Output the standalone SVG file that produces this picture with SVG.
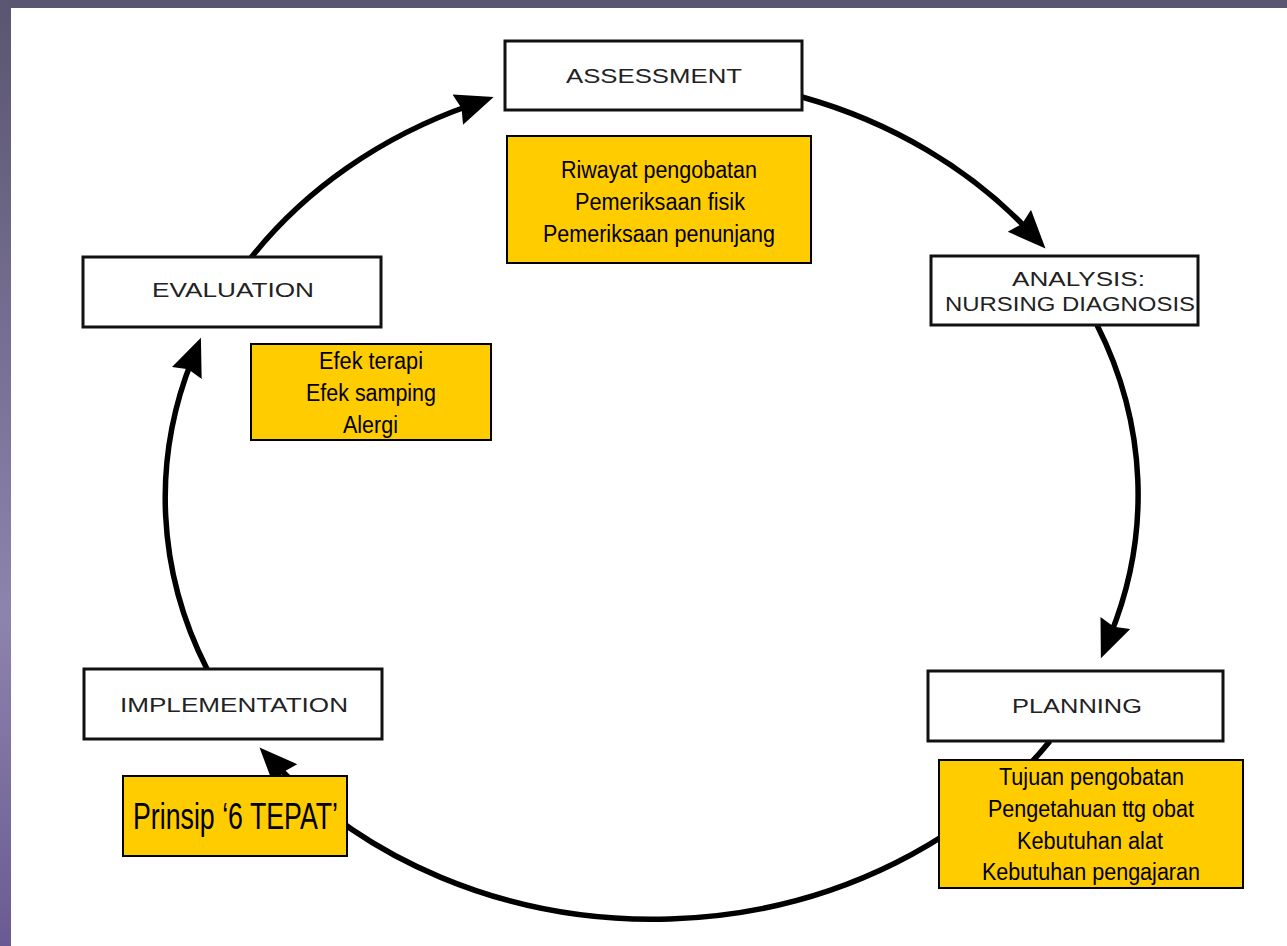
<svg xmlns="http://www.w3.org/2000/svg" width="1287" height="946" viewBox="0 0 1287 946">
<style>
.box{fill:#fff;stroke:#111;stroke-width:3}
.note{fill:#FFCC00;stroke:#000;stroke-width:2}
.lbl{font-family:"Liberation Sans",Arial,sans-serif;font-size:20px;fill:#222}
.nt{font-family:"Liberation Sans Narrow","Liberation Sans",Arial,sans-serif;font-size:23.5px;fill:#000}
.big{font-family:"Liberation Sans Narrow","Liberation Sans",Arial,sans-serif;font-size:36px;fill:#000}
.arc{fill:none;stroke:#000;stroke-width:5.5}
</style>
<defs>
<linearGradient id="side" x1="0" y1="0" x2="0" y2="1">
<stop offset="0" stop-color="#5a5570"/>
<stop offset="0.65" stop-color="#8d84ad"/>
<stop offset="1" stop-color="#6a5a92"/>
</linearGradient>
<marker id="ah" markerUnits="userSpaceOnUse" markerWidth="44" markerHeight="36" refX="14" refY="16" orient="auto" viewBox="0 0 44 36">
<path d="M0,0 L38,16 L0,32 L4,16 z" fill="#000"/>
</marker>
</defs>
<rect x="0" y="0" width="1287" height="946" fill="#fff"/>
<rect x="0" y="0" width="1287" height="8" fill="#5a5570"/>
<rect x="0" y="0" width="11" height="946" fill="url(#side)"/>

<g id="connectors">
<path class="arc" d="M250,259 A487,422 0 0 1 471,105" marker-end="url(#ah)"/>
<path class="arc" d="M802,97 A487,422 0 0 1 1029,231" marker-end="url(#ah)"/>
<path class="arc" d="M1097,325 A487,422 0 0 1 1110,636" marker-end="url(#ah)"/>
<path class="arc" d="M1050,741 A487,422 0 0 1 276,765" marker-end="url(#ah)"/>
<path class="arc" d="M207,669 A487,422 0 0 1 192,360" marker-end="url(#ah)"/>
</g>

<g id="assessment">
<rect class="box" x="505" y="41" width="297" height="69"/>
<text class="lbl" x="566" y="83" textLength="176" lengthAdjust="spacingAndGlyphs">ASSESSMENT</text>
</g>
<g id="assessment-note">
<rect class="note" x="507" y="136" width="304" height="127"/>
<text class="nt" x="561" y="178" textLength="196" lengthAdjust="spacingAndGlyphs">Riwayat pengobatan</text>
<text class="nt" x="575" y="210" textLength="170" lengthAdjust="spacingAndGlyphs">Pemeriksaan fisik</text>
<text class="nt" x="543" y="242" textLength="232" lengthAdjust="spacingAndGlyphs">Pemeriksaan penunjang</text>
</g>

<g id="analysis">
<rect class="box" x="931" y="256" width="267" height="69"/>
<text class="lbl" x="1012" y="286" textLength="133" lengthAdjust="spacingAndGlyphs">ANALYSIS:</text>
<text class="lbl" x="945" y="311" textLength="250" lengthAdjust="spacingAndGlyphs">NURSING DIAGNOSIS</text>
</g>

<g id="planning">
<rect class="box" x="928" y="671" width="295" height="70"/>
<text class="lbl" x="1012" y="713" textLength="130" lengthAdjust="spacingAndGlyphs">PLANNING</text>
</g>
<g id="planning-note">
<rect class="note" x="939" y="760" width="304" height="128"/>
<text class="nt" x="999" y="785" textLength="185" lengthAdjust="spacingAndGlyphs">Tujuan pengobatan</text>
<text class="nt" x="988" y="817" textLength="206" lengthAdjust="spacingAndGlyphs">Pengetahuan ttg obat</text>
<text class="nt" x="1017" y="849" textLength="146" lengthAdjust="spacingAndGlyphs">Kebutuhan alat</text>
<text class="nt" x="982" y="880" textLength="218" lengthAdjust="spacingAndGlyphs">Kebutuhan pengajaran</text>
</g>

<g id="implementation">
<rect class="box" x="84" y="669" width="298" height="70"/>
<text class="lbl" x="120" y="712" textLength="228" lengthAdjust="spacingAndGlyphs">IMPLEMENTATION</text>
</g>
<g id="implementation-note">
<rect class="note" x="123" y="776" width="224" height="80"/>
<text class="big" x="133" y="829" textLength="205" lengthAdjust="spacingAndGlyphs">Prinsip ‘6 TEPAT’</text>
</g>

<g id="evaluation">
<rect class="box" x="83" y="257" width="298" height="70"/>
<text class="lbl" x="152" y="297" textLength="162" lengthAdjust="spacingAndGlyphs">EVALUATION</text>
</g>
<g id="evaluation-note">
<rect class="note" x="251" y="344" width="240" height="96"/>
<text class="nt" x="319" y="369" textLength="104" lengthAdjust="spacingAndGlyphs">Efek terapi</text>
<text class="nt" x="306" y="401" textLength="130" lengthAdjust="spacingAndGlyphs">Efek samping</text>
<text class="nt" x="343" y="433" textLength="55" lengthAdjust="spacingAndGlyphs">Alergi</text>
</g>
</svg>
